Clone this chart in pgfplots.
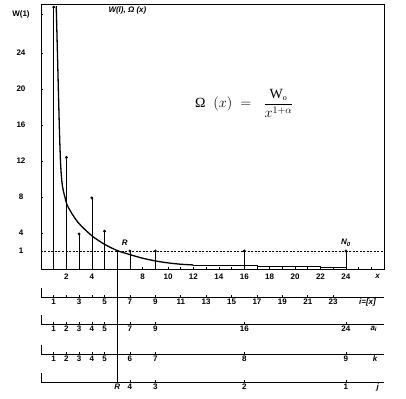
\documentclass[border=0pt]{standalone}
\usepackage{pgfplots}
\pgfplotsset{compat=1.18}
\usepackage{fontspec}
\setmainfont{Liberation Sans}
\newfontfamily\serif{Liberation Serif}
\newcommand{\lbl}{\bfseries\fontsize{8}{9}\selectfont}
\newcommand{\lbi}{\bfseries\itshape\fontsize{8}{9}\selectfont}
\pgfplotsset{
  lowscale/.style={
    scale only axis, width=343pt, height=9pt,
    xmin=0, xmax=27, ymin=0, ymax=1,
    hide y axis, axis x line*=bottom, x axis line style={-},
    xtick align=inside, major tick length=2.5pt,
    tick style={black, line width=0.6pt},
    axis line style={black, line width=0.9pt},
    xticklabel style={font=\lbl, inner sep=1.5pt},
    clip=false, anchor=south west},
}
\begin{document}
\begin{tikzpicture}
\path[use as bounding box] (0pt,0pt) rectangle (406pt,-398pt);
\begin{axis}[
  at={(41pt,-269pt)}, anchor=south west,
  scale only axis, width=343pt, height=265pt,
  xmin=0, xmax=27, ymin=0, ymax=29.45, clip=false,
  axis line style={black, line width=0.8pt},
  xtick={1,...,26},
  xticklabels={,2,,4,,,,8,,10,,12,,14,,16,,18,,20,,22,,24,,},
  ytick={2,4,8,12,16,20,24,28.3},
  yticklabels={1,4,8,12,16,20,24,W(1)},
  tick align=inside, major tick length=2pt,
  tick style={black, line width=0.6pt},
  xtick pos=bottom, ytick pos=left,
  tick label style={font=\lbl},
  yticklabel style={anchor=center, xshift=-20pt},
  xticklabel style={yshift=-1pt},
]
\addplot[black, line width=0.5pt, dash pattern=on 2pt off 1.5pt] coordinates {(0,2) (27,2)};
\addplot[ycomb, black, line width=0.6pt, mark=*, mark size=1.1pt] coordinates {
  (1,29.1) (2,12.4) (3,3.9) (4,7.9) (5,4.2) (7,2) (9,2) (16,2) (24,2)};
\addplot[black, line width=0.6pt] coordinates {(6,2) (6,-12.56)};
\addplot[black, line width=1.3pt, smooth, tension=0.5] coordinates {
  (1.2,29.2) (1.33,22) (1.45,15.5) (1.55,11.5) (1.68,9.3) (1.9,7.9) (2.13,6.9)
  (2.9,5.2) (4,3.7) (5,2.75) (6,2.05) (7,1.6) (8,1.2) (9,0.9) (10,0.68)
  (11,0.53) (12,0.45)};
\addplot[black, line width=0.8pt] coordinates {
  (12,0.45) (17,0.45) (17,0.3) (22,0.3) (22,0.15) (24,0.15)};
\node[font=\lbi] at (axis cs:6.6,2.9) {R};
\node[font=\lbi] at (axis cs:24,2.9) {N\textsubscript{0}};
\node[font=\lbi, anchor=west, inner sep=0pt] at (axis cs:5.3,28.7) {W(l), Ω (x)};
\node[font=\lbi, anchor=north] at (axis cs:26.5,0) [yshift=-2pt] {x};
\node[anchor=center] at (axis cs:16.0,18.4) {\fontsize{14}{16}\selectfont $\displaystyle\mbox{\serif Ω}\;\;(x)\;=\;\;\frac{\mbox{\serif W}_{\mbox{\serif\fontsize{8}{9}\selectfont o}}}{x^{1+\alpha}}$};
\end{axis}
% scale i=[x]
\begin{axis}[lowscale, at={(41pt,-297pt)},
  xtick={1,2,3,4,5,7,9,11,13,15,17,19,21,23},
  xticklabels={1,,3,,5,7,9,11,13,15,17,19,21,23}]
\addplot[black, line width=0.9pt] coordinates {(0,0) (0,1)};
\node[font=\lbi, anchor=north, inner sep=1.5pt] at (axis cs:25.7,0) {i=[x]};
\end{axis}
% scale a_i
\begin{axis}[lowscale, at={(41pt,-324pt)},
  xtick={1,2,3,4,5,7,9,16,24},
  xticklabels={1,2,3,4,5,7,9,16,24}]
\addplot[black, line width=0.9pt] coordinates {(0,0) (0,1)};
\node[font=\lbi, anchor=north, inner sep=1.5pt] at (axis cs:26.2,0) {a\textsubscript{i}};
\end{axis}
% scale k
\begin{axis}[lowscale, at={(41pt,-354pt)},
  xtick={1,2,3,4,5,7,9,16,24},
  xticklabels={1,2,3,4,5,6,7,8,9}]
\addplot[black, line width=0.9pt] coordinates {(0,0) (0,1)};
\node[font=\lbi, anchor=north, inner sep=1.5pt] at (axis cs:26.3,0) {k};
\end{axis}
% scale j
\begin{axis}[lowscale, at={(41pt,-382pt)},
  xtick={6,7,9,16,24},
  xticklabels={\textit{R},4,3,2,1}]
\addplot[black, line width=0.9pt] coordinates {(0,0) (0,1)};
\node[font=\lbi, anchor=north, inner sep=1.5pt] at (axis cs:26.5,0) {j};
\end{axis}
\end{tikzpicture}
\end{document}
